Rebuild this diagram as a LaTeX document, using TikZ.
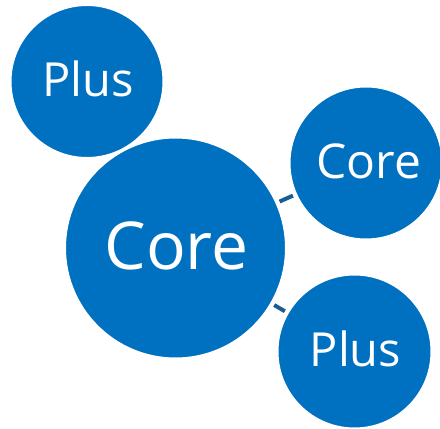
\documentclass[tikz,border=0pt]{standalone}
\usepackage{fontspec}
\setmainfont{Open Sans}
\definecolor{bubble}{HTML}{0070C0}
\definecolor{link}{HTML}{185E95}
\begin{document}
\begin{tikzpicture}[x=1pt,y=-1pt,
  bub/.style={circle,fill=bubble,draw=white,line width=3pt,inner sep=0pt},
  lbl/.style={text=white,inner sep=0pt},
  bigtxt/.style={font=\fontsize{66}{70}\selectfont},
  smalltxt/.style={font=\fontsize{47}{50}\selectfont},
  linkline/.style={draw=link,line width=4pt,shorten <=1.5pt,shorten >=1.5pt}]
\useasboundingbox (0,0) rectangle (440,429);
\node[bub,minimum size=222pt] (core) at (175.5,248) {};
\node[lbl,bigtxt] (coreT) at (176.5,246) {Core};
\node[bub,minimum size=154pt] (plusA) at (87,81.5) {};
\node[lbl,smalltxt] (plusAT) at (88,79) {Plus};
\node[bub,minimum size=154pt] (coreB) at (366,163) {};
\node[lbl,smalltxt,font=\fontsize{48}{50}\selectfont] (coreBT) at (369,161) {Core};
\node[bub,minimum size=155pt] (plusB) at (354.5,351.5) {};
\node[lbl,smalltxt] (plusBT) at (355.5,349) {Plus};
\draw[linkline] (core) -- (coreB);
\draw[linkline] (core) -- (plusB);
\end{tikzpicture}
\end{document}
